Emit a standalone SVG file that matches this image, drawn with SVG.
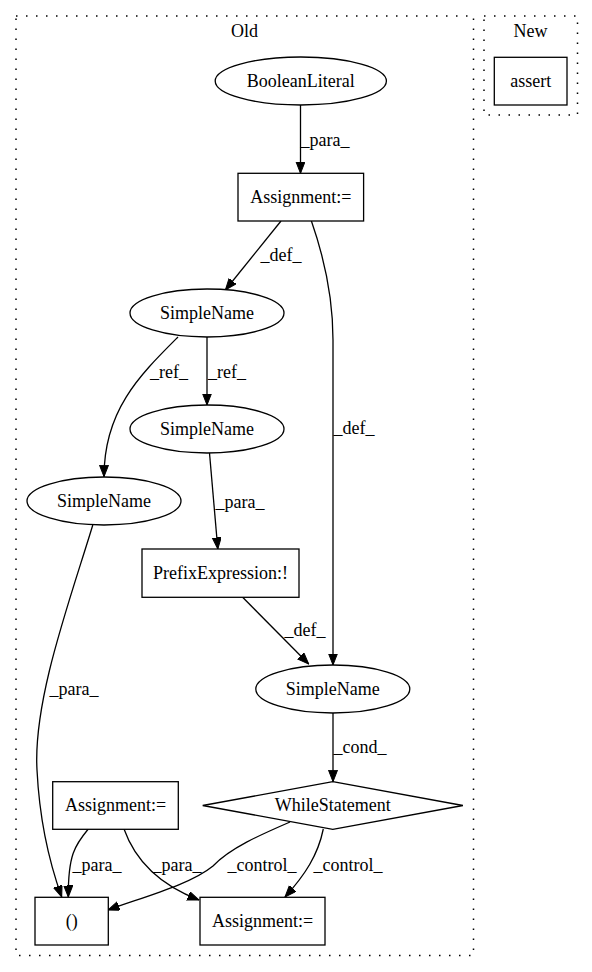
<svg xmlns="http://www.w3.org/2000/svg" width="592" height="972" viewBox="0 0 592 972">
<defs>
<marker id="arr" markerWidth="12" markerHeight="10" refX="11.5" refY="4.5" orient="auto" markerUnits="userSpaceOnUse">
<path d="M0,0 L11.5,4.5 L0,9 z" fill="#000" stroke="#000" stroke-width="1"/>
</marker>
<style>
text{font-family:"Liberation Serif","Times New Roman",serif;font-size:18px;fill:#000;text-anchor:middle}
.n{fill:#fff;stroke:#000;stroke-width:1.3}
.c{fill:none;stroke:#000;stroke-width:1.5;stroke-dasharray:1.5,8.5}
.e{fill:none;stroke:#000;stroke-width:1.3;marker-end:url(#arr)}
</style>
</defs>
<rect width="592" height="972" fill="#fff"/>
<g id="cluster_old">
<rect class="c" x="16" y="16" width="457.5" height="939.5"/>
<text x="244.5" y="37">Old</text>
</g>
<g id="cluster_new">
<rect class="c" x="484" y="16" width="93.5" height="99"/>
<text x="530.5" y="37">New</text>
</g>
<g id="edges">
<path class="e" d="M300.5,105 L300.5,173.3"/>
<text x="325" y="146">_para_</text>
<path class="e" d="M281,221 L225.4,290"/>
<text x="281" y="261">_def_</text>
<path class="e" d="M311.4,221 C325,260 333,300 333,340 L333,665"/>
<text x="354" y="434">_def_</text>
<path class="e" d="M178,337 C140,375 104,410 104,476.7"/>
<text x="169" y="378">_ref_</text>
<path class="e" d="M207,337 L207,405"/>
<text x="227" y="378">_ref_</text>
<path class="e" d="M209.5,453 L217.8,549"/>
<text x="240" y="508">_para_</text>
<path class="e" d="M242.4,597 L308.7,664"/>
<text x="305" y="636">_def_</text>
<path class="e" d="M92.8,525 C70,600 33,700 37,770 C40,830 52,870 61.7,897"/>
<text x="74" y="695">_para_</text>
<path class="e" d="M333,713 L333,781.7"/>
<text x="360" y="753">_cond_</text>
<path class="e" d="M88.3,829 C75,845 68,855 68.3,897"/>
<text x="97" y="871">_para_</text>
<path class="e" d="M124,829 C135,860 160,885 199,900"/>
<text x="177" y="871">_para_</text>
<path class="e" d="M290,822 C260,835 230,848 213,866 C190,885 140,898 108,910"/>
<text x="262" y="871">_control_</text>
<path class="e" d="M323.3,829 C318,855 305,875 285,897"/>
<text x="348" y="871">_control_</text>
</g>
<g id="assert">
<rect class="n" x="494.3" y="57.3" width="72.7" height="47.7"/>
<text x="530.7" y="87">assert</text>
</g>
<g id="booleanliteral">
<ellipse class="n" cx="300.8" cy="81" rx="85.6" ry="24"/>
<text x="300.8" y="87">BooleanLiteral</text>
</g>
<g id="assignment1">
<rect class="n" x="238" y="173.3" width="125.6" height="47.7"/>
<text x="300.8" y="203">Assignment:=</text>
</g>
<g id="simplename1">
<ellipse class="n" cx="207" cy="313" rx="77" ry="24"/>
<text x="207" y="319">SimpleName</text>
</g>
<g id="simplename2">
<ellipse class="n" cx="207" cy="429" rx="77" ry="24"/>
<text x="207" y="435">SimpleName</text>
</g>
<g id="simplename3">
<ellipse class="n" cx="104" cy="501" rx="77" ry="24"/>
<text x="104" y="507">SimpleName</text>
</g>
<g id="prefixexpression">
<rect class="n" x="142" y="549" width="157" height="48.3"/>
<text x="220.5" y="579">PrefixExpression:!</text>
</g>
<g id="simplename4">
<ellipse class="n" cx="332.8" cy="689" rx="77" ry="24"/>
<text x="332.8" y="695">SimpleName</text>
</g>
<g id="whilestatement">
<polygon class="n" points="332.8,781.7 462.9,805.5 332.8,829.3 202.7,805.5"/>
<text x="332.8" y="811">WhileStatement</text>
</g>
<g id="assignment2">
<rect class="n" x="52.7" y="781.7" width="125.6" height="47.6"/>
<text x="115.5" y="811">Assignment:=</text>
</g>
<g id="paren">
<rect class="n" x="35" y="897.3" width="73.3" height="47.7"/>
<text x="71.7" y="927">()</text>
</g>
<g id="assignment3">
<rect class="n" x="200" y="897.3" width="125" height="47.7"/>
<text x="262.5" y="927">Assignment:=</text>
</g>
</svg>
